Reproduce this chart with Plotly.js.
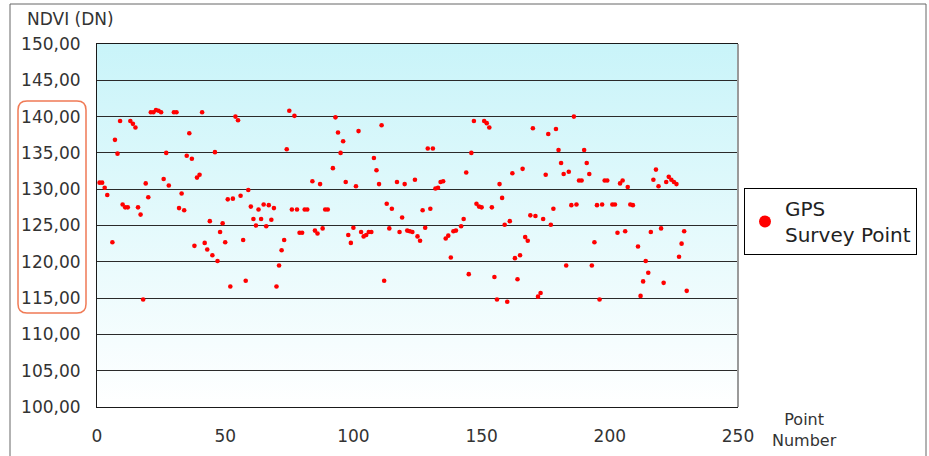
<!DOCTYPE html>
<html>
<head>
<meta charset="utf-8">
<script src="https://cdn.plot.ly/plotly-3.0.1.min.js"></script>
<style>
  html, body { margin: 0; padding: 0; background: #ffffff; }
  #chart { width: 929px; height: 456px; }
</style>
</head>
<body>
<div id="chart"></div>
<script>
// ---- data ----
const pointNo = [
  1,2,3,4,6,7,8,9,10,11,12,13,14,15,16,17,18,19,20,21,22,23,24,25,26,27,28,30,31,32,33,34,35,36,37,
  38,39,40,41,42,43,44,45,46,47,48,49,50,51,52,53,54,55,56,57,58,59,60,61,62,63,64,65,66,67,68,69,70,71,72,73,74,
  75,76,77,78,79,80,81,82,84,85,86,87,88,89,90,92,93,94,95,96,97,98,99,100,101,102,103,104,105,106,107,108,109,110,111,
  112,113,114,115,117,118,119,120,121,122,123,124,125,126,127,128,129,130,131,132,133,134,135,136,137,138,139,140,142,143,144,145,146,147,148,
  149,150,151,152,153,154,155,156,157,158,159,160,161,162,163,164,165,166,167,168,169,170,171,172,173,174,175,176,177,178,179,180,181,182,183,184,185,
  186,187,188,189,190,191,192,193,194,195,196,197,198,199,201,202,203,204,205,206,207,208,209,211,212,213,214,215,216,217,218,219,220,221,
  222,223,224,225,226,227,228,229,230
];
const ndvi = [
  130.9,130.9,130.2,129.2,122.7,136.8,134.9,139.4,127.9,127.5,127.5,139.4,139.0,138.5,127.5,126.5,114.8,130.8,128.9,140.6,140.6,140.9,140.8,140.6,131.4,135.0,130.5,140.6,140.6,127.4,129.4,127.1,134.6,137.7,134.2,
  122.2,131.6,132.0,140.6,122.6,121.7,125.6,120.9,135.1,120.1,124.1,125.3,122.7,128.6,116.6,128.7,140.0,139.5,129.1,123.0,117.4,129.9,127.6,125.9,125.0,127.2,125.9,127.9,124.9,127.8,125.8,127.4,116.6,119.5,121.6,123.0,135.5,
  140.8,127.2,140.1,127.2,124.0,124.0,127.2,127.2,131.1,124.3,123.9,130.7,124.6,127.2,127.2,132.9,139.9,137.8,135.0,136.6,131.0,123.7,122.6,124.7,130.4,138.0,124.1,123.5,123.7,124.1,124.1,134.3,132.6,130.7,138.8,
  117.4,128.0,124.6,127.3,131.0,124.1,126.1,130.7,124.3,124.2,124.1,131.3,123.5,122.9,127.1,124.7,135.6,127.3,135.6,130.1,130.2,131.0,131.1,123.2,123.6,120.6,124.2,124.3,124.9,125.9,132.3,118.3,135.0,139.4,128.0,
  127.6,127.5,139.4,139.1,138.5,127.5,117.9,114.8,130.7,128.8,125.1,114.5,125.6,132.2,120.5,117.6,120.9,132.8,123.4,122.9,126.4,138.4,126.3,115.2,115.7,125.9,132.0,137.6,125.1,127.3,138.3,135.4,133.6,132.1,119.5,132.4,127.8,
  140.0,127.9,131.2,131.2,135.4,133.6,132.1,119.5,122.7,127.8,114.8,127.9,131.2,131.2,127.9,127.9,124.0,130.8,131.2,124.2,130.3,127.9,127.8,122.1,115.3,117.3,120.1,118.5,124.1,131.3,132.7,130.4,124.6,117.1,
  131.0,131.7,131.3,131.0,130.7,120.7,122.5,124.2,116.0
];
const yTickVals = [100,105,110,115,120,125,130,135,140,145,150];
const yTickText = ['100,00','105,00','110,00','115,00','120,00','125,00','130,00','135,00','140,00','145,00','150,00'];
const xTickVals = [0,50,100,150,200,250];
const xTickText = ['0','50','100','150','200','250'];
const seriesName = 'GPS<br>Survey Point';
const yTitle = 'NDVI (DN)';
const xTitle = 'Point<br>Number';

// ---- background gradient for plot area ----
const gradSvg = "<svg xmlns='http://www.w3.org/2000/svg' width='10' height='100' preserveAspectRatio='none'>" +
  "<defs><linearGradient id='g' x1='0' y1='0' x2='0' y2='1'>" +
  "<stop offset='0' stop-color='#c9f4f9'/><stop offset='1' stop-color='#ffffff'/>" +
  "</linearGradient></defs><rect width='10' height='100' fill='url(#g)'/></svg>";
const gradUri = 'data:image/svg+xml;charset=utf-8,' + encodeURIComponent(gradSvg);

// rounded rect path in paper coords
function roundRect(x0, y0, x1, y1, rx, ry) {
  return `M ${x0+rx},${y1} L ${x1-rx},${y1} Q ${x1},${y1} ${x1},${y1-ry} L ${x1},${y0+ry} Q ${x1},${y0} ${x1-rx},${y0} ` +
         `L ${x0+rx},${y0} Q ${x0},${y0} ${x0},${y0+ry} L ${x0},${y1-ry} Q ${x0},${y1} ${x0+rx},${y1} Z`;
}

const W = 929, H = 456;
const L = 97, R = 738, T = 44, B = 407;
const pw = R - L, ph = B - T;
const px = v => (v - L) / pw;
const py = v => (B - v) / ph;

const trace = {
  x: pointNo,
  y: ndvi,
  type: 'scatter',
  mode: 'markers',
  name: seriesName,
  marker: { color: '#ff0000', size: 4.6 },
  hoverinfo: 'x+y'
};

const font = 'DejaVu Sans, Liberation Sans, Arial, sans-serif';

const layout = {
  width: W, height: H,
  margin: { l: L, r: W - R, t: T, b: H - B, pad: 0 },
  paper_bgcolor: '#ffffff',
  plot_bgcolor: 'rgba(0,0,0,0)',
  showlegend: true,
  font: { family: font, color: '#333333' },
  xaxis: {
    range: [0, 250],
    tickvals: xTickVals, ticktext: xTickText,
    showgrid: false, zeroline: false,
    showline: true, mirror: true, linecolor: '#1a1a1a', linewidth: 1,
    ticks: '', ticklabelstandoff: 14,
    tickfont: { family: font, size: 17, color: '#333333' },
    fixedrange: true
  },
  yaxis: {
    range: [100, 150],
    tickvals: yTickVals, ticktext: yTickText,
    showgrid: true, gridcolor: '#2a2a2a', gridwidth: 1,
    zeroline: false,
    showline: true, mirror: false, linecolor: '#1a1a1a', linewidth: 1,
    ticks: '', ticklabelstandoff: 12,
    tickfont: { family: font, size: 17, color: '#333333' },
    fixedrange: true
  },
  legend: {
    x: px(744), y: py(188), xanchor: 'left', yanchor: 'top',
    bordercolor: '#000000', borderwidth: 1, bgcolor: '#ffffff',
    font: { family: font, size: 20, color: '#222222' },
    itemsizing: 'constant', valign: 'middle'
  },
  images: [{
    source: gradUri, xref: 'paper', yref: 'paper',
    x: 0, y: 1, sizex: 1, sizey: 1, sizing: 'stretch',
    xanchor: 'left', yanchor: 'top', layer: 'below'
  }],
  shapes: [
    { type: 'line', xref: 'paper', yref: 'paper', x0: 1, x1: 1, y0: 0, y1: 1,
      line: { color: '#9a9a9a', width: 2 } },
    { type: 'rect', xref: 'paper', yref: 'paper',
      x0: px(10), x1: px(926), y0: py(470), y1: py(4),
      line: { color: '#666666', width: 1 }, fillcolor: 'rgba(0,0,0,0)' },
    { type: 'path', xref: 'paper', yref: 'paper',
      path: roundRect(px(18), py(313), px(86), py(101), 9 / pw, 9 / ph),
      line: { color: '#f07a55', width: 1.5 }, fillcolor: 'rgba(0,0,0,0)' }
  ],
  annotations: [
    { text: yTitle, xref: 'paper', yref: 'paper', x: px(25), y: py(19),
      xanchor: 'left', yanchor: 'middle', showarrow: false,
      font: { family: font, size: 17, color: '#333333' } },
    { text: xTitle, xref: 'paper', yref: 'paper', x: px(805), y: py(430),
      xanchor: 'center', yanchor: 'middle', showarrow: false, align: 'center',
      font: { family: font, size: 16, color: '#333333' } }
  ]
};

Plotly.newPlot('chart', [trace], layout, { displayModeBar: false, staticPlot: true });
</script>
</body>
</html>
